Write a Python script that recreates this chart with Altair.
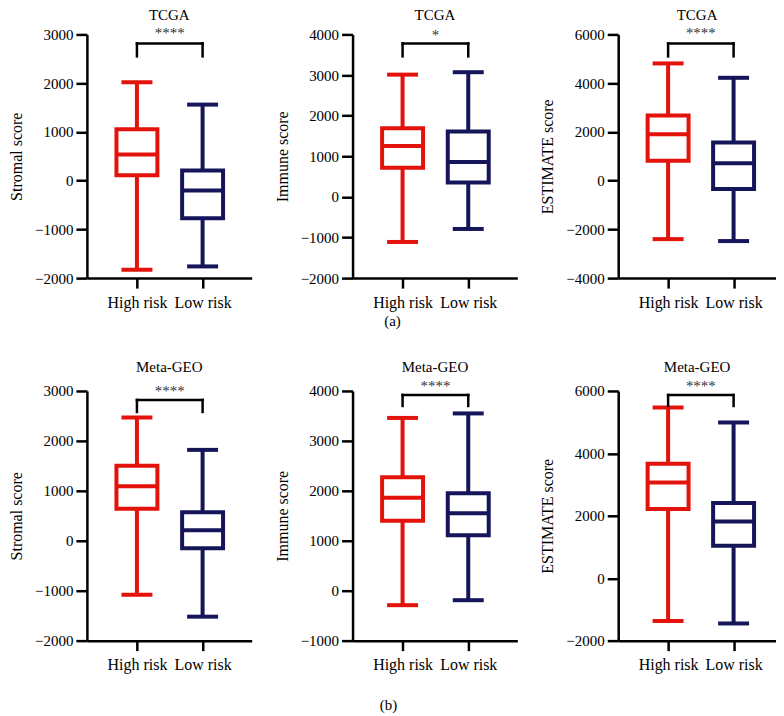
import altair as alt
import pandas as pd

# ---------------- data ----------------
groups = ["High risk", "Low risk"]
group_pos = [1, 2]
colors = ["#E3120B", "#15155A"]

panel_titles = ["TCGA", "TCGA", "TCGA", "Meta-GEO", "Meta-GEO", "Meta-GEO"]
y_titles = ["Stromal score", "Immune score", "ESTIMATE score",
            "Stromal score", "Immune score", "ESTIMATE score"]
signif = ["****", "*", "****", "****", "****", "****"]
row_labels = ["(a)", "(b)"]

y_domains = [[-2000, 3000], [-2000, 4000], [-4000, 6000],
             [-2000, 3000], [-1000, 4000], [-2000, 6000]]
y_ticks = [[-2000, -1000, 0, 1000, 2000, 3000],
           [-2000, -1000, 0, 1000, 2000, 3000, 4000],
           [-4000, -2000, 0, 2000, 4000, 6000],
           [-2000, -1000, 0, 1000, 2000, 3000],
           [-1000, 0, 1000, 2000, 3000, 4000],
           [-2000, 0, 2000, 4000, 6000]]

# per panel: [High risk, Low risk]
mins = [[-1830, -1760], [-1110, -790], [-2400, -2480],
        [-1080, -1520], [-290, -190], [-1370, -1450]]
q1s = [[110, -770], [720, 355], [820, -340],
       [640, -150], [1400, 1110], [2220, 1040]]
medians = [[535, -200], [1250, 860], [1900, 710],
           [1090, 210], [1860, 1550], [3070, 1820]]
q3s = [[1055, 210], [1690, 1610], [2670, 1560],
       [1500, 570], [2270, 1950], [3670, 2410]]
maxs = [[2020, 1560], [3010, 3070], [4810, 4220],
        [2470, 1820], [3460, 3550], [5470, 4990]]

# ---------------- style / layout ----------------
FONT = "Liberation Serif"
widths = [165, 165, 158, 165, 165, 158]
heights = [244, 244, 244, 250, 250, 250]
STEP = 70      # px between the two groups
LEFT = 48      # px from y axis to first group
title_y = [-14, -14, -14, -19, -19, -19]   # baselines, px from plot top
star_y = [4, 6, 4, 5, 0, 0]
brk_top = [9, 9, 9, 9, 4, 4]
brk_bot = [22, 22, 22, 21, 15, 15]
label_pos = {1: (40, 244 + 43), 4: (36, 250 + 64)}


def panel(i):
    df = pd.DataFrame({
        "group": groups, "pos": group_pos,
        "lo": mins[i], "q1": q1s[i], "med": medians[i],
        "q3": q3s[i], "hi": maxs[i],
    })
    lo_dom = 1 - LEFT / STEP
    xscale = alt.Scale(domain=[lo_dom, lo_dom + widths[i] / STEP], nice=False, zero=False)
    xaxis = alt.Axis(values=[1, 2], title=None, grid=False,
                     labelExpr="datum.value == 1 ? 'High risk' : 'Low risk'",
                     labelFontSize=16, labelPadding=6, tickSize=10)
    yscale = alt.Scale(domain=y_domains[i], nice=False, zero=False)
    yaxis = alt.Axis(values=y_ticks[i], format="d", title=y_titles[i], grid=False)

    def X(f):
        return alt.X(f"{f}:Q", scale=xscale, axis=xaxis)

    def Y(f):
        return alt.Y(f"{f}:Q", scale=yscale, axis=yaxis)

    col = alt.Color("group:N", scale=alt.Scale(domain=groups, range=colors), legend=None)
    stk = alt.Stroke("group:N", scale=alt.Scale(domain=groups, range=colors), legend=None)

    base = alt.Chart(df)
    whisk = base.mark_rule(strokeWidth=4, opacity=1).encode(x=X("pos"), y=Y("lo"), y2="hi:Q", color=col)
    cap_lo = base.mark_tick(orient="horizontal", size=31, thickness=4, opacity=1).encode(
        x=X("pos"), y=Y("lo"), color=col)
    cap_hi = base.mark_tick(orient="horizontal", size=31, thickness=4, opacity=1).encode(
        x=X("pos"), y=Y("hi"), color=col)
    box = base.mark_bar(size=41, fill="white", strokeWidth=4, opacity=1).encode(
        x=X("pos"), y=Y("q1"), y2="q3:Q", stroke=stk)
    med = base.mark_tick(orient="horizontal", size=41, thickness=4, opacity=1).encode(
        x=X("pos"), y=Y("med"), color=col)

    bdf = pd.DataFrame({"x1": [group_pos[0]], "x2": [group_pos[1]]})
    bracket = alt.Chart(bdf).mark_rule(strokeWidth=2.5, color="black", strokeCap="square").encode(
        x=X("x1"), x2="x2:Q", y=alt.value(brk_top[i]))
    legs = alt.Chart(df).mark_rule(strokeWidth=2.5, color="black", strokeCap="square").encode(
        x=X("pos"), y=alt.value(brk_top[i]), y2=alt.value(brk_bot[i]))
    stars = alt.Chart(bdf).transform_calculate(xm="(datum.x1 + datum.x2) / 2").mark_text(
        font=FONT, fontSize=15, baseline="alphabetic", color="#333333").encode(
        x=X("xm"), y=alt.value(star_y[i]), text=alt.value(signif[i]))
    title = alt.Chart(bdf).mark_text(
        font=FONT, fontSize=15, baseline="alphabetic", align="center", color="black").encode(
        x=alt.value(widths[i] / 2), y=alt.value(title_y[i]), text=alt.value(panel_titles[i]))

    layers = [whisk, cap_lo, cap_hi, box, med, bracket, legs, stars, title]
    if i in label_pos:
        lx, ly = label_pos[i]
        lab = alt.Chart(bdf).mark_text(font=FONT, fontSize=15, baseline="middle", align="center",
                                       color="black").encode(
            x=alt.value(lx), y=alt.value(ly), text=alt.value(row_labels[0 if i == 1 else 1]))
        layers.append(lab)

    return alt.layer(*layers).properties(width=widths[i], height=heights[i])


chart = alt.concat(*[panel(i) for i in range(6)], columns=3,
                   spacing={"row": 113, "column": 101}, bounds="flush").properties(
    padding={"top": 0, "left": 0, "right": 0, "bottom": 0},
    background="white",
).configure_view(stroke=None).configure_axis(
    domainColor="black", domainWidth=2.5, tickColor="black", tickWidth=2.5, tickSize=11,
    labelFont=FONT, labelFontSize=15, labelColor="black", labelPadding=3,
    titleFont=FONT, titleFontSize=16, titleFontWeight="normal", titleColor="black",
    titlePadding=10,
)

chart.save("out.html", embed_options={"renderer": "svg", "actions": False})
